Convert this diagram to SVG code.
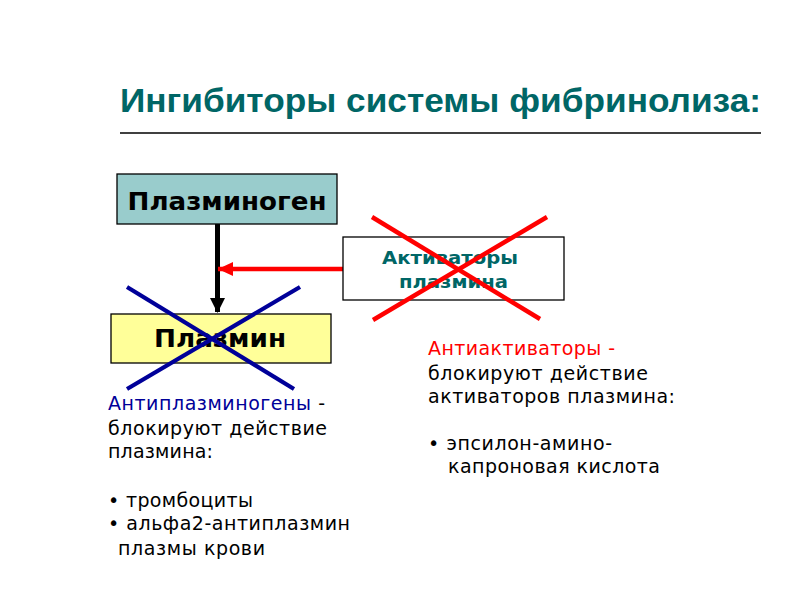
<svg xmlns="http://www.w3.org/2000/svg" width="800" height="600" viewBox="0 0 800 600">
<style>
.box{stroke:#000;stroke-width:1.3}
.bt{font-family:"DejaVu Sans",Verdana,sans-serif;font-weight:bold;font-size:24px;fill:#000;text-anchor:middle}
.at{font-family:"DejaVu Sans",Verdana,sans-serif;font-weight:bold;font-size:17.5px;fill:#006666;text-anchor:middle}
.tx{font-family:"DejaVu Sans",Verdana,sans-serif;font-size:19px;fill:#000}
.xr{stroke:#ff0000;stroke-width:4.5;stroke-linecap:butt}
.xb{stroke:#000099;stroke-width:4.2;stroke-linecap:butt}
</style>
<defs>
<marker id="hb" markerUnits="userSpaceOnUse" markerWidth="16" markerHeight="16" refX="14" refY="7.5" orient="auto">
<path d="M0,0 L15,7.5 L0,15 Z" fill="#000"/>
</marker>
<marker id="hr" markerUnits="userSpaceOnUse" markerWidth="16" markerHeight="16" refX="15" refY="7" orient="auto">
<path d="M0,0 L15,7 L0,14 Z" fill="#ff0000"/>
</marker>
</defs>
<rect width="800" height="600" fill="#fff"/>
<g id="title">
<text x="120" y="112" font-family="'Liberation Sans Narrow','Liberation Sans',Arial,sans-serif" font-weight="bold" font-size="33" fill="#006666" textLength="641" lengthAdjust="spacingAndGlyphs">Ингибиторы системы фибринолиза:</text>
<line x1="120" y1="133" x2="761" y2="133" stroke="#000" stroke-width="1.5"/>
</g>
<g id="connectors">
<line x1="217.5" y1="224" x2="217.5" y2="312" stroke="#000" stroke-width="5" marker-end="url(#hb)"/>
<line x1="346" y1="269" x2="218" y2="269" stroke="#ff0000" stroke-width="4.5" marker-end="url(#hr)"/>
</g>
<g id="plasminogen">
<rect class="box" x="117" y="174" width="220" height="50" fill="#99cccc"/>
<text class="bt" x="227" y="210" textLength="199" lengthAdjust="spacingAndGlyphs">Плазминоген</text>
</g>
<g id="plasmin">
<rect class="box" x="111" y="314" width="220" height="49" fill="#ffff99"/>
<text class="bt" x="220" y="347" textLength="132" lengthAdjust="spacingAndGlyphs">Плазмин</text>
</g>
<g id="activators">
<rect class="box" x="343" y="237" width="221" height="63" fill="#fff"/>
<text class="at" x="450" y="264" textLength="136" lengthAdjust="spacingAndGlyphs">Активаторы</text>
<text class="at" x="453.5" y="288" textLength="109" lengthAdjust="spacingAndGlyphs">плазмина</text>
</g>
<g id="cross-red">
<line class="xr" x1="372" y1="217" x2="540" y2="319"/>
<line class="xr" x1="547" y1="217" x2="373" y2="320"/>
</g>
<g id="cross-blue">
<line class="xb" x1="127" y1="287" x2="294" y2="389"/>
<line class="xb" x1="300" y1="287" x2="127" y2="389"/>
</g>
<g id="antiplasminogens">
<text class="tx" x="108" y="410" textLength="217"><tspan fill="#000099">Антиплазминогены</tspan> -</text>
<text class="tx" x="108" y="435" textLength="219">блокируют действие</text>
<text class="tx" x="108" y="458" textLength="105">плазмина:</text>
<text class="tx" x="108" y="507" textLength="145">• тромбоциты</text>
<text class="tx" x="108" y="530" textLength="242">• альфа2-антиплазмин</text>
<text class="tx" x="118" y="555" textLength="147">плазмы крови</text>
</g>
<g id="antiactivators">
<text class="tx" x="428" y="355" textLength="187" style="fill:#ff0000">Антиактиваторы -</text>
<text class="tx" x="428" y="380" textLength="220">блокируют действие</text>
<text class="tx" x="428" y="403" textLength="247">активаторов плазмина:</text>
<text class="tx" x="428" y="450" textLength="184">• эпсилон-амино-</text>
<text class="tx" x="448" y="473" textLength="212">капроновая кислота</text>
</g>
</svg>
